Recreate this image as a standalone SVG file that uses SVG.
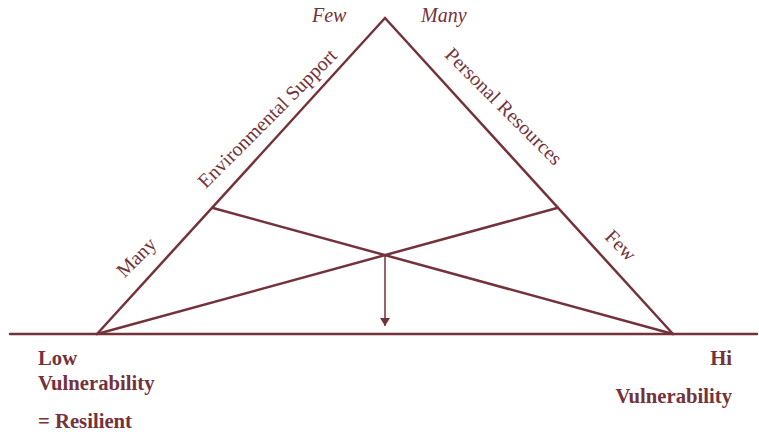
<svg xmlns="http://www.w3.org/2000/svg" width="759" height="437" viewBox="0 0 759 437">
<style>
.ln{stroke:#74323a;stroke-width:2.5;fill:none;stroke-linecap:round}
.t{font-family:"Liberation Serif",serif;font-size:20px;fill:#74323a}
.i{font-style:italic}
.b{font-weight:bold;font-size:20.7px}
</style>
<defs>
<marker id="ah" markerWidth="8" markerHeight="10" refX="8" refY="5" orient="auto" markerUnits="userSpaceOnUse">
<path d="M0,0 L8,5 L0,10 Z" fill="#74323a"/>
</marker>
</defs>
<rect width="759" height="437" fill="#fff"/>
<g id="connectors">
<line class="ln" x1="10" y1="334" x2="757" y2="334"/>
<path class="ln" d="M97,334 L385,18 L673,334" stroke-linejoin="miter"/>
<line class="ln" x1="213" y1="208" x2="673" y2="334"/>
<line class="ln" x1="97" y1="334" x2="557" y2="208"/>
<line x1="385" y1="255" x2="385" y2="326" stroke="#74323a" stroke-width="1.5" marker-end="url(#ah)"/>
</g>
<g id="axis-labels">
<text class="t i" x="312" y="22">Few</text>
<text class="t i" x="421" y="22">Many</text>
<text class="t" transform="translate(272,123) rotate(-45)" text-anchor="middle" font-size="20.4">Environmental Support</text>
<text class="t" transform="translate(499,111) rotate(45)" text-anchor="middle" font-size="20.4">Personal Resources</text>
<text class="t" transform="translate(141,262) rotate(-45)" text-anchor="middle">Many</text>
<text class="t" transform="translate(616,250) rotate(45)" text-anchor="middle">Few</text>
</g>
<g id="low">
<text class="t b" x="38" y="365">Low</text>
<text class="t b" x="38" y="390">Vulnerability</text>
<text class="t b" x="38" y="428">= Resilient</text>
</g>
<g id="hi">
<text class="t b" x="732" y="365" text-anchor="end">Hi</text>
<text class="t b" x="732" y="403" text-anchor="end">Vulnerability</text>
</g>
</svg>
